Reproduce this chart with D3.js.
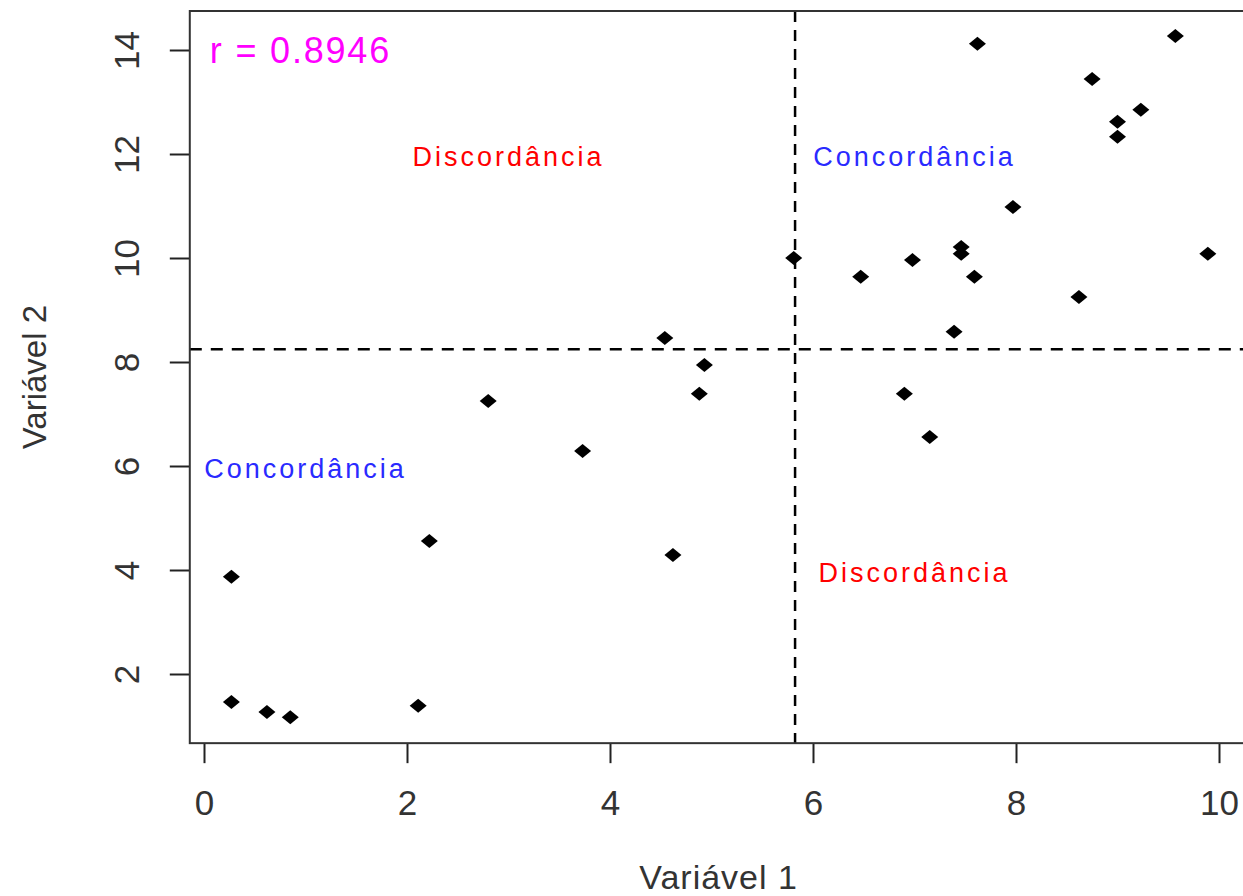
<!DOCTYPE html>
<html>
<head>
<meta charset="utf-8">
<script src="https://cdn.jsdelivr.net/npm/d3@7"></script>
<style>
  html, body { margin: 0; padding: 0; background: #fff; overflow: hidden; }
  svg { display: block; font-family: "Liberation Sans", Arial, sans-serif; }
</style>
</head>
<body>
<svg id="chart" width="1243" height="896"></svg>
<script>
// ---- data ----
const var1 = [0.27, 0.27, 0.62, 0.85, 2.11, 2.22, 2.80, 3.73, 4.54, 4.62,
              4.88, 4.93, 5.81, 6.47, 6.90, 6.98, 7.15, 7.39, 7.46, 7.46,
              7.59, 7.62, 7.97, 8.62, 8.75, 9.00, 9.00, 9.23, 9.57, 9.89];
const var2 = [3.87, 1.46, 1.27, 1.17, 1.39, 4.56, 7.25, 6.29, 8.46, 4.29,
              7.39, 7.94, 10.00, 9.64, 7.39, 9.96, 6.56, 8.58, 10.21, 10.08,
              9.64, 14.12, 10.98, 9.25, 13.44, 12.62, 12.33, 12.85, 14.27, 10.08];
const xTicks = [0, 2, 4, 6, 8, 10];
const yTicks = [2, 4, 6, 8, 10, 12, 14];
const xLimits = [-0.14, 10.28];
const yLimits = [0.67, 14.75];
const xTitle = "Variável 1";
const yTitle = "Variável 2";
const rLabel = "r = 0.8946";
const quadrantLabels = [
  { text: "Discordância", x: 3, y: 12, kind: "disc" },
  { text: "Concordância", x: 7, y: 12, kind: "conc" },
  { text: "Concordância", x: 1, y: 6,  kind: "conc" },
  { text: "Discordância", x: 7, y: 4,  kind: "disc" }
];
const rPos = { x: 0.95, y: 14 };

// ---- scales ----
const x = d3.scaleLinear().domain([0, 10]).range([204, 1219]);
const y = d3.scaleLinear().domain([2, 14]).range([674, 50]);

const svg = d3.select("#chart");
const points = var1.map((v, i) => ({ x: v, y: var2[i] }));
const meanX = d3.mean(var1);
const meanY = d3.mean(var2);

const pLeft = x(xLimits[0]), pRight = x(xLimits[1]);
const pTop = y(yLimits[1]), pBottom = y(yLimits[0]);

// dashed mean lines
svg.append("line")
  .attr("x1", x(meanX)).attr("x2", x(meanX))
  .attr("y1", pTop).attr("y2", pBottom)
  .attr("stroke", "#000").attr("stroke-width", 2.5)
  .attr("stroke-dasharray", "11,8");
svg.append("line")
  .attr("x1", pLeft).attr("x2", pRight)
  .attr("y1", y(meanY)).attr("y2", y(meanY))
  .attr("stroke", "#000").attr("stroke-width", 2.5)
  .attr("stroke-dasharray", "12,9");

// points (filled diamonds, pch 18)
const diamond = "M0,-7L8.5,0L0,7L-8.5,0Z";
svg.append("g").selectAll("path")
  .data(points).join("path")
  .attr("d", diamond)
  .attr("transform", d => `translate(${x(d.x)},${y(d.y)})`)
  .attr("fill", "#000");

// quadrant labels
svg.append("g").selectAll("text")
  .data(quadrantLabels).join("text")
  .attr("x", d => x(d.x)).attr("y", d => y(d.y) + 12)
  .attr("text-anchor", "middle")
  .attr("font-size", 27)
  .attr("letter-spacing", 3)
  .attr("fill", d => d.kind === "disc" ? "#ff0000" : "#2a2aff")
  .text(d => d.text);

svg.append("text")
  .attr("x", x(rPos.x)).attr("y", y(rPos.y) + 13)
  .attr("text-anchor", "middle")
  .attr("font-size", 36)
  .attr("letter-spacing", 1.8)
  .attr("fill", "#ff00ff")
  .text(rLabel);

// axes
const xAxis = svg.append("g")
  .attr("transform", `translate(0,${pBottom})`)
  .call(d3.axisBottom(x).tickValues(xTicks).tickSize(20).tickPadding(0).tickFormat(d3.format("d")));
xAxis.select(".domain").remove();
xAxis.selectAll(".tick line").attr("stroke", "#222").attr("stroke-width", 2);
xAxis.selectAll(".tick text")
  .attr("y", 72).attr("dy", null)
  .attr("font-size", 35).attr("fill", "#333")
  .attr("font-family", "Liberation Sans, Arial, sans-serif");

const yAxis = svg.append("g")
  .attr("transform", `translate(${pLeft},0)`)
  .call(d3.axisLeft(y).tickValues(yTicks).tickSize(20).tickFormat(d3.format("d")));
yAxis.select(".domain").remove();
yAxis.selectAll(".tick line").attr("stroke", "#222").attr("stroke-width", 2);
yAxis.selectAll(".tick text")
  .attr("x", null).attr("dy", null)
  .attr("text-anchor", "middle")
  .attr("transform", `translate(${139 - pLeft},0) rotate(-90)`)
  .attr("font-size", 35).attr("fill", "#333")
  .attr("font-family", "Liberation Sans, Arial, sans-serif");

// plot box
svg.append("rect")
  .attr("x", pLeft).attr("y", pTop)
  .attr("width", pRight - pLeft).attr("height", pBottom - pTop)
  .attr("fill", "none").attr("stroke", "#333").attr("stroke-width", 2);

// axis titles
svg.append("text")
  .attr("x", (pLeft + pRight) / 2).attr("y", 889)
  .attr("text-anchor", "middle")
  .attr("font-size", 34).attr("letter-spacing", 1)
  .attr("fill", "#333")
  .text(xTitle);
svg.append("text")
  .attr("transform", `translate(46,${(pTop + pBottom) / 2}) rotate(-90)`)
  .attr("text-anchor", "middle")
  .attr("font-size", 33)
  .attr("fill", "#333")
  .text(yTitle);
</script>
</body>
</html>
